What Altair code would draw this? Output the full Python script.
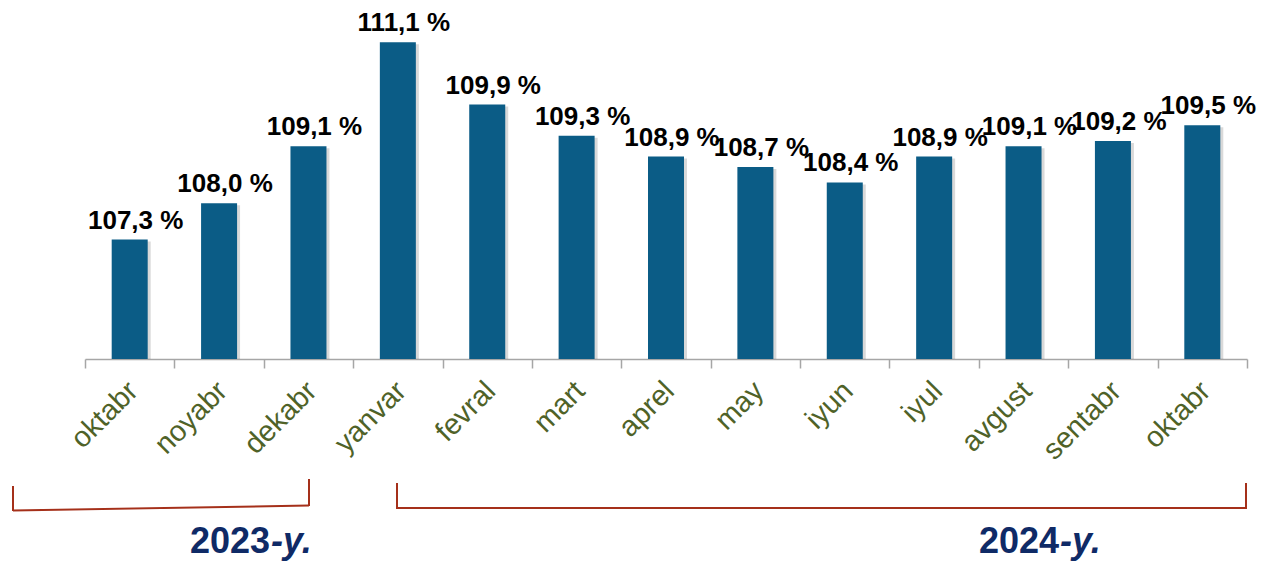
import json
import altair as alt
import pandas as pd

# ---- data ----
months = ["oktabr", "noyabr", "dekabr", "yanvar", "fevral", "mart", "aprel",
          "may", "iyun", "iyul", "avgust", "sentabr", "oktabr"]
values = [107.3, 108.0, 109.1, 111.1, 109.9, 109.3, 108.9, 108.7, 108.4,
          108.9, 109.1, 109.2, 109.5]
years = ["2023", "2024"]
year_suffix = "-y."

keys = [f"{i:02d}" for i in range(len(months))]
df = pd.DataFrame({
    "key": keys,
    "value": values,
    "label": [f"{v:.1f}".replace(".", ",") + " %" for v in values],
})

# ---- layout ----
W, H = 1162, 341
Y_MIN, Y_MAX = 105.0, 111.568
BAR = "#0b5c86"
OLIVE = "#4f6228"
NAVY = "#0f2a66"
RED = "#a5301a"
FONT = "Liberation Sans"

label_expr = json.dumps(months) + "[toNumber(datum.value)]"

xenc = alt.X("key:N", sort=keys, title=None,
             scale=alt.Scale(paddingInner=0, paddingOuter=0),
             axis=alt.Axis(labelExpr=label_expr, labelAngle=-45,
                           labelAlign="right", labelBaseline="middle",
                           labelColor=OLIVE, labelFont=FONT, labelFontSize=29,
                           labelPadding=18, labelOffset=3,
                           domainColor="#a6a6a6",
                           domainWidth=1.5, tickColor="#a6a6a6", tickWidth=1.5,
                           tickSize=9, tickBand="extent", grid=False))
yscale = alt.Scale(domain=[Y_MIN, Y_MAX], nice=False, zero=False)
yenc = alt.Y("value:Q", scale=yscale, axis=None)

base = alt.Chart(df)

shadow = base.mark_bar(width=36, color="#000000", opacity=0.15,
                       xOffset=3, yOffset=2).encode(
    x=xenc, y=yenc, y2=alt.datum(Y_MIN))
bars = base.mark_bar(width=36, color=BAR).encode(
    x=xenc, y=yenc, y2=alt.datum(Y_MIN))
labels = base.mark_text(font=FONT, fontSize=26, fontWeight="bold",
                        color="#000000", baseline="alphabetic",
                        dy=-11, dx=6).encode(
    x=xenc, y=yenc, text="label:N")

one = pd.DataFrame({"a": [0]})

def rule(x, y, x2=None, y2=None):
    enc = {"x": alt.value(x), "y": alt.value(y)}
    if x2 is not None:
        enc["x2"] = alt.value(x2)
    if y2 is not None:
        enc["y2"] = alt.value(y2)
    return alt.Chart(one).mark_rule(color=RED, strokeWidth=2).encode(**enc)

brackets = [
    rule(-72, 468, y2=493),
    rule(-72, 492.5, x2=224, y2=487.5),
    rule(224, 461, y2=488),
    rule(312, 465, y2=491),
    rule(312, 490, x2=1161, y2=490),
    rule(1161, 465, y2=491),
]

year_pos = [185, 974]
YEAR_Y = 535
year_layers = []
for yr, xp in zip(years, year_pos):
    year_layers.append(
        alt.Chart(pd.DataFrame({"t": [yr]})).mark_text(
            font=FONT, fontSize=36, fontWeight="bold", color=NAVY,
            align="right", baseline="alphabetic").encode(
            x=alt.value(xp), y=alt.value(YEAR_Y), text="t:N"))
    year_layers.append(
        alt.Chart(pd.DataFrame({"t": [year_suffix]})).mark_text(
            font=FONT, fontSize=36, fontWeight="bold", fontStyle="italic",
            color=NAVY, align="left", baseline="alphabetic").encode(
            x=alt.value(xp + 1), y=alt.value(YEAR_Y), text="t:N"))

chart = alt.layer(shadow, bars, labels, *brackets, *year_layers).properties(
    width=W, height=H,
    background="#ffffff",
    autosize=alt.AutoSizeParams(type="none"),
    padding={"left": 77, "top": 10, "right": 14, "bottom": 202},
).configure_view(stroke=None)

chart.save("out.html", embed_options={"renderer": "svg", "actions": False})
